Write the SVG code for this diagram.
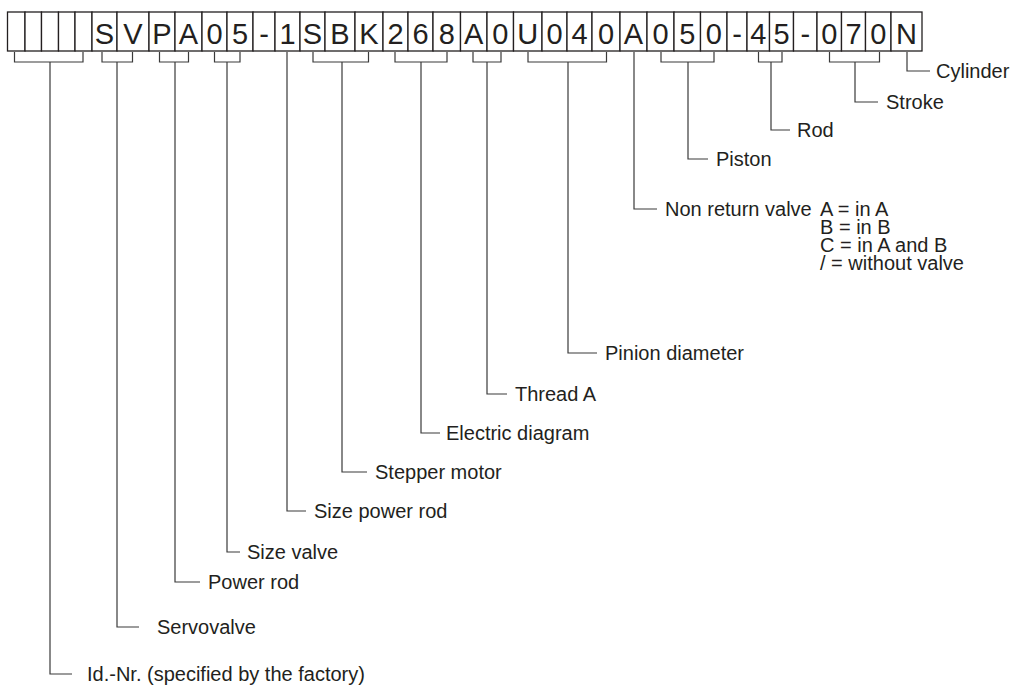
<svg xmlns="http://www.w3.org/2000/svg" width="1031" height="686" viewBox="0 0 1031 686">
  <style>
    .cell { fill: #ffffff; stroke: #231f20; stroke-width: 1.3; }
    .ch { font-family: "Liberation Sans", Arial, sans-serif; font-size: 29px; fill: #231f20; text-anchor: middle; }
    .lbl { font-family: "Liberation Sans", Arial, sans-serif; font-size: 20px; fill: #231f20; }
    .wire { fill: none; stroke: #3a3a3a; stroke-width: 1.2; }
  </style>
  <rect width="1031" height="686" fill="#ffffff"/>

  <!-- Type code cells -->
  <g id="code">
    <g id="cell-01"><rect class="cell" x="7.5" y="12" width="17.5" height="39"/></g>
    <g id="cell-02"><rect class="cell" x="25" y="12" width="16.5" height="39"/></g>
    <g id="cell-03"><rect class="cell" x="41.5" y="12" width="17" height="39"/></g>
    <g id="cell-04"><rect class="cell" x="58.5" y="12" width="16.5" height="39"/></g>
    <g id="cell-05"><rect class="cell" x="75" y="12" width="17" height="39"/></g>
    <g id="cell-06"><rect class="cell" x="92" y="12" width="25" height="39"/><text class="ch" x="104.5" y="44">S</text></g>
    <g id="cell-07"><rect class="cell" x="117" y="12" width="32" height="39"/><text class="ch" x="133" y="44">V</text></g>
    <g id="cell-08"><rect class="cell" x="149" y="12" width="26" height="39"/><text class="ch" x="162" y="44">P</text></g>
    <g id="cell-09"><rect class="cell" x="175" y="12" width="27" height="39"/><text class="ch" x="188.5" y="44">A</text></g>
    <g id="cell-10"><rect class="cell" x="202" y="12" width="25" height="39"/><text class="ch" x="214.5" y="44">0</text></g>
    <g id="cell-11"><rect class="cell" x="227" y="12" width="26" height="39"/><text class="ch" x="240" y="44">5</text></g>
    <g id="cell-12"><rect class="cell" x="253" y="12" width="22" height="39"/><text class="ch" x="264" y="44">-</text></g>
    <g id="cell-13"><rect class="cell" x="275" y="12" width="25" height="39"/><text class="ch" x="287.5" y="44">1</text></g>
    <g id="cell-14"><rect class="cell" x="300" y="12" width="25" height="39"/><text class="ch" x="312.5" y="44">S</text></g>
    <g id="cell-15"><rect class="cell" x="325" y="12" width="30" height="39"/><text class="ch" x="340" y="44">B</text></g>
    <g id="cell-16"><rect class="cell" x="355" y="12" width="28" height="39"/><text class="ch" x="369" y="44">K</text></g>
    <g id="cell-17"><rect class="cell" x="383" y="12" width="25" height="39"/><text class="ch" x="395.5" y="44">2</text></g>
    <g id="cell-18"><rect class="cell" x="408" y="12" width="25" height="39"/><text class="ch" x="420.5" y="44">6</text></g>
    <g id="cell-19"><rect class="cell" x="433" y="12" width="27.5" height="39"/><text class="ch" x="446.75" y="44">8</text></g>
    <g id="cell-20"><rect class="cell" x="460.5" y="12" width="26.5" height="39"/><text class="ch" x="473.75" y="44">A</text></g>
    <g id="cell-21"><rect class="cell" x="487" y="12" width="26.5" height="39"/><text class="ch" x="500.25" y="44">0</text></g>
    <g id="cell-22"><rect class="cell" x="513.5" y="12" width="28.5" height="39"/><text class="ch" x="527.75" y="44">U</text></g>
    <g id="cell-23"><rect class="cell" x="542" y="12" width="25" height="39"/><text class="ch" x="554.5" y="44">0</text></g>
    <g id="cell-24"><rect class="cell" x="567" y="12" width="25" height="39"/><text class="ch" x="579.5" y="44">4</text></g>
    <g id="cell-25"><rect class="cell" x="592" y="12" width="28" height="39"/><text class="ch" x="606" y="44">0</text></g>
    <g id="cell-26"><rect class="cell" x="620" y="12" width="27" height="39"/><text class="ch" x="633.5" y="44">A</text></g>
    <g id="cell-27"><rect class="cell" x="647" y="12" width="27" height="39"/><text class="ch" x="660.5" y="44">0</text></g>
    <g id="cell-28"><rect class="cell" x="674" y="12" width="26.5" height="39"/><text class="ch" x="687.25" y="44">5</text></g>
    <g id="cell-29"><rect class="cell" x="700.5" y="12" width="26.5" height="39"/><text class="ch" x="713.75" y="44">0</text></g>
    <g id="cell-30"><rect class="cell" x="727" y="12" width="20" height="39"/><text class="ch" x="737" y="44">-</text></g>
    <g id="cell-31"><rect class="cell" x="747" y="12" width="22.5" height="39"/><text class="ch" x="758.25" y="44">4</text></g>
    <g id="cell-32"><rect class="cell" x="769.5" y="12" width="24" height="39"/><text class="ch" x="781.5" y="44">5</text></g>
    <g id="cell-33"><rect class="cell" x="793.5" y="12" width="23.5" height="39"/><text class="ch" x="805.25" y="44">-</text></g>
    <g id="cell-34"><rect class="cell" x="817" y="12" width="24.5" height="39"/><text class="ch" x="829.25" y="44">0</text></g>
    <g id="cell-35"><rect class="cell" x="841.5" y="12" width="24" height="39"/><text class="ch" x="853.5" y="44">7</text></g>
    <g id="cell-36"><rect class="cell" x="865.5" y="12" width="25.5" height="39"/><text class="ch" x="878.25" y="44">0</text></g>
    <g id="cell-37"><rect class="cell" x="891" y="12" width="31" height="39"/><text class="ch" x="906.5" y="44">N</text></g>
  </g>

  <!-- Brackets and leader lines -->
  <g id="connectors" class="wire">
    <path d="M907 52 V71 H930"/>
    <path d="M829.5 52 V62 H879.5 V52 M855 62 V102 H878"/>
    <path d="M758.5 52 V62 H782 V52 M771 62 V130 H790"/>
    <path d="M661 52 V62 H714 V52 M688 62 V159 H708"/>
    <path d="M634 52 V209 H657"/>
    <path d="M528 52 V62 H606.5 V52 M568 62 V353 H597"/>
    <path d="M473 52 V62 H501 V52 M487 62 V394 H507"/>
    <path d="M395 52 V62 H447 V52 M421 62 V433 H440"/>
    <path d="M313 52 V62 H368.5 V52 M342 62 V472 H367"/>
    <path d="M287 52 V511 H306"/>
    <path d="M214.5 52 V62 H240 V52 M227 62 V552 H240"/>
    <path d="M159.5 52 V62 H188.5 V52 M175 62 V582 H200"/>
    <path d="M102 52 V62 H132.5 V52 M117 62 V627 H139"/>
    <path d="M14.5 52 V62 H83 V52 M50 62 V674 H72"/>
  </g>

  <!-- Field labels -->
  <g id="label-cylinder"><text class="lbl" x="936" y="78">Cylinder</text></g>
  <g id="label-stroke"><text class="lbl" x="886" y="109">Stroke</text></g>
  <g id="label-rod"><text class="lbl" x="797" y="137">Rod</text></g>
  <g id="label-piston"><text class="lbl" x="716" y="166">Piston</text></g>
  <g id="label-nonreturn">
    <text class="lbl" x="665" y="216">Non return valve</text>
    <text class="lbl" x="820" y="216">A = in A</text>
    <text class="lbl" x="820" y="234">B = in B</text>
    <text class="lbl" x="820" y="252">C = in A and B</text>
    <text class="lbl" x="820" y="270">/ = without valve</text>
  </g>
  <g id="label-pinion"><text class="lbl" x="605" y="360">Pinion diameter</text></g>
  <g id="label-thread"><text class="lbl" x="515" y="401">Thread A</text></g>
  <g id="label-electric"><text class="lbl" x="446" y="440">Electric diagram</text></g>
  <g id="label-stepper"><text class="lbl" x="375" y="479">Stepper motor</text></g>
  <g id="label-sizepowerrod"><text class="lbl" x="314" y="518">Size power rod</text></g>
  <g id="label-sizevalve"><text class="lbl" x="247" y="559">Size valve</text></g>
  <g id="label-powerrod"><text class="lbl" x="208" y="589">Power rod</text></g>
  <g id="label-servovalve"><text class="lbl" x="157" y="634">Servovalve</text></g>
  <g id="label-id"><text class="lbl" x="87" y="681">Id.-Nr. (specified by the factory)</text></g>
</svg>
